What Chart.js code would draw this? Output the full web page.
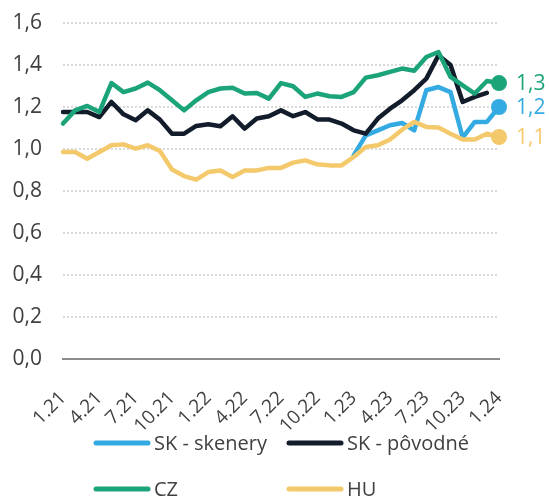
<!DOCTYPE html>
<html>
<head>
<meta charset="utf-8">
<script src="https://cdn.jsdelivr.net/npm/chart.js@4.4.1/dist/chart.umd.min.js"></script>
<style>
  html, body { margin: 0; padding: 0; background: #fff; }
  #wrap { position: relative; width: 549px; height: 498px; }
</style>
</head>
<body>
<div id="wrap"><canvas id="chart" width="549" height="498"></canvas></div>
<script>
// --- Data ---
const months = [
  '1.21','2.21','3.21','4.21','5.21','6.21','7.21','8.21','9.21','10.21','11.21','12.21',
  '1.22','2.22','3.22','4.22','5.22','6.22','7.22','8.22','9.22','10.22','11.22','12.22',
  '1.23','2.23','3.23','4.23','5.23','6.23','7.23','8.23','9.23','10.23','11.23','12.23',
  '1.24'
];
const yTicks = [0, 0.2, 0.4, 0.6, 0.8, 1.0, 1.2, 1.4, 1.6];

const skSkenery = [
  null, null, null, null, null, null, null, null, null, null, null, null,
  null, null, null, null, null, null, null, null, null, null, null, null,
  0.97, 1.065, 1.089, 1.113, 1.124, 1.089, 1.28, 1.295, 1.271, 1.054, 1.129, 1.129,
  1.20
];
const skPovodne = [
  1.176, 1.176, 1.176, 1.152, 1.224, 1.165, 1.137, 1.184, 1.14, 1.073, 1.073, 1.11,
  1.118, 1.108, 1.156, 1.097, 1.145, 1.156, 1.184, 1.156, 1.176, 1.141, 1.14, 1.121,
  1.089, 1.073, 1.145, 1.192, 1.232, 1.28, 1.335, 1.446, 1.40, 1.224, 1.248, 1.267,
  null
];
const cz = [
  1.121, 1.184, 1.205, 1.176, 1.314, 1.271, 1.288, 1.316, 1.28, 1.232, 1.184, 1.232,
  1.271, 1.288, 1.292, 1.264, 1.267, 1.24, 1.314, 1.299, 1.248, 1.264, 1.251, 1.248,
  1.271, 1.34, 1.351, 1.367, 1.383, 1.373, 1.438, 1.462, 1.343, 1.303, 1.264, 1.324,
  1.314
];
const hu = [
  0.986, 0.986, 0.954, 0.986, 1.018, 1.022, 1.002, 1.018, 0.99, 0.902, 0.871, 0.854,
  0.89, 0.898, 0.867, 0.898, 0.898, 0.91, 0.91, 0.935, 0.946, 0.927, 0.922, 0.922,
  0.962, 1.01, 1.018, 1.045, 1.092, 1.129, 1.105, 1.102, 1.073, 1.045, 1.045, 1.073,
  1.057
];
const endLabels = ['1,2', null, '1,3', '1,1'];

const seriesNames = ['SK - skenery', 'SK - pôvodné', 'CZ', 'HU'];
const seriesColors = ['#33aae1', '#131c2b', '#1ba37a', '#f4c96b'];

const FONT = '"Open Sans", "Liberation Sans", sans-serif';
const lastIdx = months.length - 1;

function fmt(v) { return v.toFixed(1).replace('.', ','); }

function makeSet(i, data, order, marker) {
  return {
    label: seriesNames[i],
    data: data,
    borderColor: seriesColors[i],
    backgroundColor: seriesColors[i],
    borderWidth: 4.5,
    tension: 0,
    borderJoinStyle: 'round',
    borderCapStyle: 'round',
    spanGaps: false,
    order: order,
    pointRadius: ctx => (marker && ctx.dataIndex === lastIdx ? 8 : 0),
    pointHoverRadius: ctx => (marker && ctx.dataIndex === lastIdx ? 8 : 0),
    pointBorderWidth: 0
  };
}

// value labels next to the end markers
const endLabelPlugin = {
  id: 'endLabels',
  afterDatasetsDraw(chart) {
    const c = chart.ctx;
    c.save();
    c.font = '21px ' + FONT;
    c.textBaseline = 'middle';
    c.textAlign = 'left';
    chart.data.datasets.forEach((ds, i) => {
      if (!endLabels[i]) return;
      const pt = chart.getDatasetMeta(i).data[lastIdx];
      if (!pt) return;
      c.fillStyle = seriesColors[i];
      c.fillText(endLabels[i], pt.x + 17, pt.y + 1);
    });
    c.restore();
  }
};

// two-column legend below the axis
const legendPlugin = {
  id: 'gridLegend',
  afterDraw(chart) {
    const c = chart.ctx;
    const cols = [94, 287];
    const rows = [443, 489];
    c.save();
    c.font = '20px ' + FONT;
    c.textBaseline = 'middle';
    c.textAlign = 'left';
    seriesNames.forEach((name, i) => {
      const x = cols[i % 2], y = rows[Math.floor(i / 2)];
      c.strokeStyle = seriesColors[i];
      c.lineWidth = 5;
      c.lineCap = 'round';
      c.beginPath();
      c.moveTo(x + 2, y);
      c.lineTo(x + 54, y);
      c.stroke();
      c.fillStyle = '#404040';
      c.fillText(name, x + 60, y + 1);
    });
    c.restore();
  }
};

new Chart(document.getElementById('chart'), {
  type: 'line',
  data: {
    labels: months,
    datasets: [
      makeSet(0, skSkenery, 3, true),
      makeSet(1, skPovodne, 2, false),
      makeSet(2, cz, 1, true),
      makeSet(3, hu, 0, true)
    ]
  },
  options: {
    responsive: false,
    animation: false,
    devicePixelRatio: 1,
    layout: { padding: { top: 23, right: 50, bottom: 0, left: 0 } },
    plugins: { legend: { display: false }, tooltip: { enabled: false } },
    scales: {
      x: {
        grid: { display: false, drawTicks: false },
        border: { display: true, color: '#8c8c8c', width: 2 },
        ticks: {
          autoSkip: false,
          minRotation: 45,
          maxRotation: 45,
          padding: 28,
          color: '#404040',
          font: { family: FONT, size: 19 },
          callback: (v, i) => (i % 3 === 0 ? months[i] : '')
        },
        afterFit: s => { s.height = 139; }
      },
      y: {
        min: 0,
        max: 1.6,
        afterBuildTicks: s => { s.ticks = yTicks.map(v => ({ value: v })); },
        grid: { color: '#d9d9d9', lineWidth: 2, drawTicks: false },
        border: { display: false, dash: [2, 2] },
        ticks: {
          padding: 21,
          color: '#404040',
          font: { family: FONT, size: 21 },
          callback: v => fmt(v)
        },
        afterFit: s => { s.width = 63; s.paddingTop = 0; s.paddingBottom = 0; }
      }
    }
  },
  plugins: [endLabelPlugin, legendPlugin]
});
</script>
</body>
</html>
